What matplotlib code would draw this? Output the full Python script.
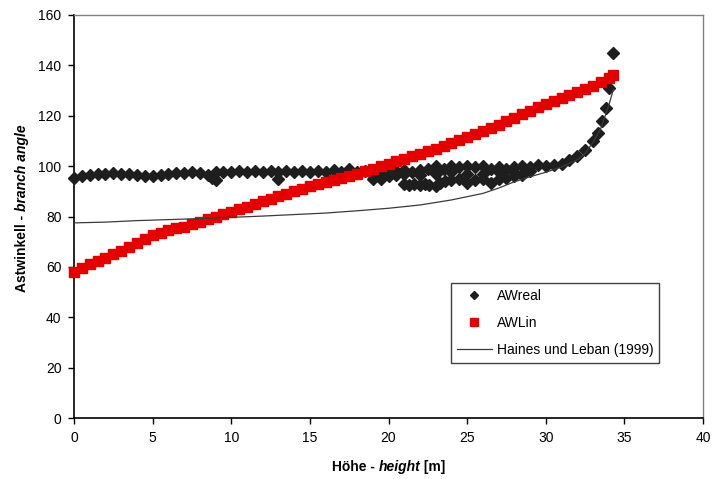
import numpy as np
import matplotlib
matplotlib.use("Agg")
import matplotlib.pyplot as plt
from matplotlib.lines import Line2D

plt.rcParams['font.family'] = ['Liberation Sans', 'DejaVu Sans']

# AWreal - measured branch angle, main band (0.5 m steps)
real_h = [0.0, 0.5, 1.0, 1.5, 2.0, 2.5, 3.0, 3.5, 4.0, 4.5, 5.0, 5.5, 6.0, 6.5, 7.0, 7.5,
          8.0, 8.5, 9.0, 9.5, 10.0, 10.5, 11.0, 11.5, 12.0, 12.5, 13.0, 13.5, 14.0, 14.5,
          15.0, 15.5, 16.0, 16.5, 17.0, 17.5, 18.0, 18.5, 19.0, 19.5, 20.0, 20.5, 21.0,
          21.5, 22.0, 22.5, 23.0, 23.5, 24.0, 24.5, 25.0, 25.5, 26.0, 26.5, 27.0, 27.5,
          28.0, 28.5, 29.0, 29.5, 30.0, 30.5, 31.0, 31.5, 32.0, 32.5, 33.0, 33.3, 33.6,
          33.8, 34.0, 34.3]
real_w = [95.5, 96.0, 96.5, 96.8, 97.0, 97.2, 97.0, 96.8, 96.5, 96.0, 96.2, 96.5, 97.0, 97.2,
          97.3, 97.5, 97.4, 96.5, 97.5, 97.5, 97.5, 98.0, 97.5, 98.0, 97.5, 98.0, 97.5, 98.0,
          97.5, 98.0, 97.5, 98.0, 97.5, 98.5, 97.5, 99.0, 97.5, 98.0, 96.5, 97.0, 97.5, 98.0,
          98.5, 97.5, 98.5, 99.0, 100.0, 99.0, 100.0, 99.5, 100.0, 99.5, 100.0, 99.0, 99.5,
          99.0, 99.5, 100.0, 99.5, 100.5, 100.0, 100.5, 101.0, 102.5, 104.0, 106.5, 110.0,
          113.0, 118.0, 123.0, 131.0, 145.0]

# AWreal - second and third bands in the upper crown
real_h2 = [8.8, 9.0, 13.0, 19.0, 19.5, 20.0, 20.5, 21.0, 21.3, 21.6, 22.0, 22.3, 22.6, 23.0,
           23.3, 23.6, 24.0, 24.5, 25.0, 25.5, 26.0, 26.5, 27.0, 27.5, 28.0, 28.5,
           21.0, 22.0, 23.0, 24.0, 25.0, 26.0, 27.0, 28.0, 29.0]
real_w2 = [95.5, 94.5, 95.0, 95.0, 95.0, 96.0, 96.5, 93.0, 92.5, 93.0, 92.5, 93.0, 92.5, 92.0,
           93.5, 94.0, 94.5, 95.0, 93.5, 94.5, 95.0, 93.5, 95.0, 95.5, 96.0, 96.5,
           97.0, 96.5, 97.0, 97.5, 97.0, 97.0, 97.5, 97.5, 98.0]

# AWLin - linear model
lin_h = [0.0, 0.5, 1.0, 1.5, 2.0, 2.5, 3.0, 3.5, 4.0, 4.5, 5.0, 5.5, 6.0, 6.5, 7.0, 7.5,
         8.0, 8.5, 9.0, 9.5, 10.0, 10.5, 11.0, 11.5, 12.0, 12.5, 13.0, 13.5, 14.0, 14.5,
         15.0, 15.5, 16.0, 16.5, 17.0, 17.5, 18.0, 18.5, 19.0, 19.5, 20.0, 20.5, 21.0,
         21.5, 22.0, 22.5, 23.0, 23.5, 24.0, 24.5, 25.0, 25.5, 26.0, 26.5, 27.0, 27.5,
         28.0, 28.5, 29.0, 29.5, 30.0, 30.5, 31.0, 31.5, 32.0, 32.5, 33.0, 33.5, 34.0, 34.3]
lin_w = [58.0, 59.5, 61.0, 62.5, 63.5, 65.0, 66.5, 68.0, 69.5, 71.0, 72.5, 73.5, 74.5, 75.3,
         76.0, 77.0, 78.0, 79.0, 80.0, 81.0, 82.0, 83.0, 84.0, 85.0, 86.0, 87.0, 88.0, 89.0,
         90.0, 91.0, 92.0, 92.8, 93.6, 94.4, 95.3, 96.2, 97.0, 98.0, 99.0, 100.0, 101.0,
         102.0, 103.0, 104.0, 105.0, 106.0, 107.0, 108.0, 109.2, 110.4, 111.5, 112.7, 114.0,
         115.2, 116.5, 118.0, 119.3, 120.7, 122.0, 123.3, 124.5, 125.8, 127.0, 128.3, 129.5,
         130.8, 132.0, 133.3, 134.8, 136.0]

# Haines und Leban (1999)
hl_h = [0, 2, 4, 6, 8, 10, 12, 14, 16, 18, 20, 22, 24, 26, 27, 28, 29, 30, 31, 32, 32.5,
        33, 33.5, 34, 34.3]
hl_w = [77.5, 77.8, 78.4, 78.8, 79.2, 79.7, 80.2, 80.8, 81.4, 82.3, 83.3, 84.6, 86.6, 89.2,
        91.3, 93.8, 95.8, 97.6, 99.7, 102.5, 105.0, 109.5, 115.0, 124.0, 130.5]

fig = plt.figure(figsize=(7.12, 4.79), dpi=100)
ax = fig.add_axes([0.104, 0.127, 0.8834, 0.8417])

dark = '#1e1e1e'
red = '#e50000'
ax.plot(real_h, real_w, 'D', color=dark, ms=6.3, ls='none', zorder=3, clip_on=False)
ax.plot(real_h2, real_w2, 'D', color=dark, ms=6.3, ls='none', zorder=3)
ax.plot(lin_h, lin_w, 's', color=red, ms=6.8, ls='none', zorder=4, clip_on=False)
ax.plot(hl_h, hl_w, '-', color='#3a3a3a', lw=0.9, zorder=5)

ax.set_xlim(0, 40)
ax.set_ylim(0, 160)
ax.set_xticks(range(0, 41, 5))
ax.set_yticks(range(0, 161, 20))
ax.tick_params(direction='out', length=4, width=1, labelsize=10, pad=5, colors='black')
for s in ['top', 'right']:
    ax.spines[s].set_color('#808080')
    ax.spines[s].set_linewidth(1.0)
for s in ['left', 'bottom']:
    ax.spines[s].set_color('black')
    ax.spines[s].set_linewidth(1.2)

handles = [
    Line2D([], [], marker='D', color=dark, ms=4.2, ls='none'),
    Line2D([], [], marker='s', color=red, ms=6.0, ls='none'),
    Line2D([], [], color='#3a3a3a', lw=0.9),
]
leg = ax.legend(handles, ['AWreal', 'AWLin', 'Haines und Leban (1999)'],
                loc='upper left', bbox_to_anchor=(0.6, 0.335), fontsize=10,
                fancybox=False, framealpha=1, edgecolor='#404040',
                handlelength=2.5, handletextpad=0.4, labelspacing=0.95,
                borderpad=0.4, borderaxespad=0)
leg.get_frame().set_linewidth(1.0)


def mixed_label(parts, x, y, rotation):
    # place bold / bold-italic pieces one after another, centred on (x, y)
    renderer = fig.canvas.get_renderer()
    widths = []
    for s, style in parts:
        t = fig.text(0, 0, s, fontsize=10, fontweight='bold', fontstyle=style)
        widths.append(t.get_window_extent(renderer).width)
        t.remove()
    total = sum(widths)
    W, H = fig.bbox.width, fig.bbox.height
    pos = -total / 2
    for (s, style), w in zip(parts, widths):
        if rotation == 0:
            fig.text(x + pos / W, y, s, fontsize=10, fontweight='bold', fontstyle=style,
                     ha='left', va='baseline')
        else:
            fig.text(x, y + pos / H, s, fontsize=10, fontweight='bold', fontstyle=style,
                     ha='left', va='baseline', rotation=90, rotation_mode='anchor')
        pos += w


mixed_label([('Höhe - ', 'normal'), ('height', 'italic'), (' [m]', 'normal')],
            0.546, 0.016, 0)
mixed_label([('Astwinkell - ', 'normal'), ('branch angle', 'italic')],
            0.037, 0.565, 90)

fig.savefig('out.png', dpi=100)
